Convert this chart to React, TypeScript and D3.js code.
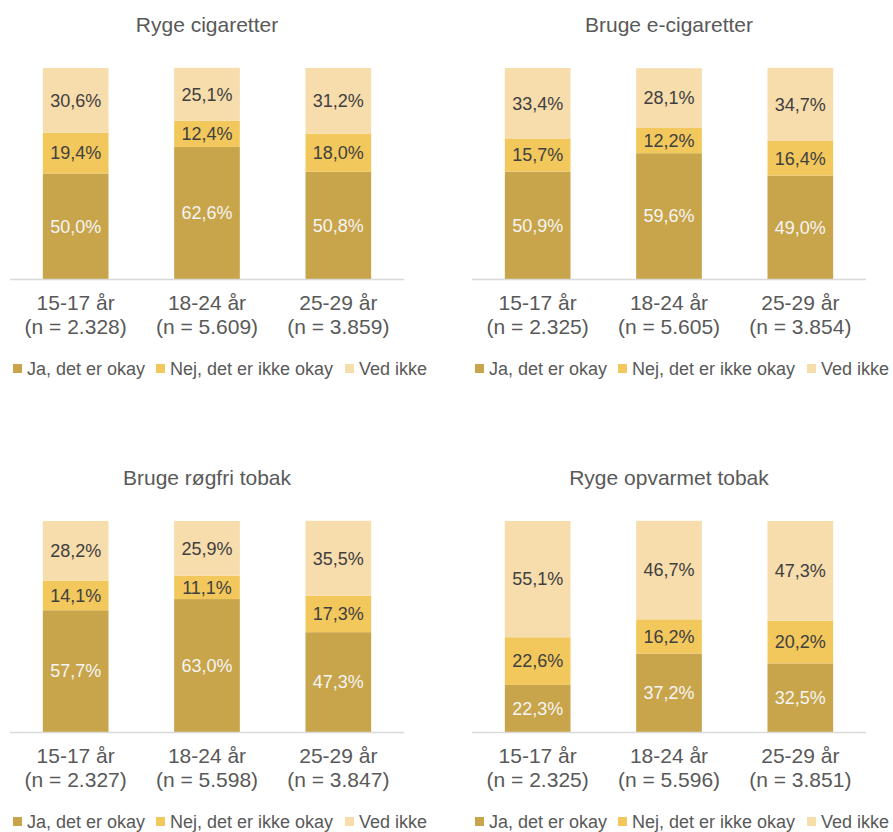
import React from "react";
import * as d3 from "d3";

const categories = ["15-17 år", "18-24 år", "25-29 år"];
const seriesNames = ["Ja, det er okay", "Nej, det er ikke okay", "Ved ikke"];
const seriesColors = ["#C8A44A", "#F2C75C", "#F7DCAC"];
const labelColors = ["#F5F5F5", "#404040", "#404040"];

const titles = ["Ryge cigaretter", "Bruge e-cigaretter", "Bruge røgfri tobak", "Ryge opvarmet tobak"];

const cigJa = [50.0, 62.6, 50.8];
const cigNej = [19.4, 12.4, 18.0];
const cigVed = [30.6, 25.1, 31.2];
const cigN = ["2.328", "5.609", "3.859"];

const eJa = [50.9, 59.6, 49.0];
const eNej = [15.7, 12.2, 16.4];
const eVed = [33.4, 28.1, 34.7];
const eN = ["2.325", "5.605", "3.854"];

const rfJa = [57.7, 63.0, 47.3];
const rfNej = [14.1, 11.1, 17.3];
const rfVed = [28.2, 25.9, 35.5];
const rfN = ["2.327", "5.598", "3.847"];

const opJa = [22.3, 37.2, 32.5];
const opNej = [22.6, 16.2, 20.2];
const opVed = [55.1, 46.7, 47.3];
const opN = ["2.325", "5.596", "3.851"];

const panelsData = [
  { series: [cigJa, cigNej, cigVed], n: cigN },
  { series: [eJa, eNej, eVed], n: eN },
  { series: [rfJa, rfNej, rfVed], n: rfN },
  { series: [opJa, opNej, opVed], n: opN },
];

const FONT = "'Liberation Sans', Arial, sans-serif";
const fmt = (v: number) => d3.format(".1f")(v).replace(".", ",") + "%";

function Panel({ idx, ox, oy }: { idx: number; ox: number; oy: number }) {
  const pd = panelsData[idx];
  const x = d3.scaleBand<string>().domain(categories).range([10, 404]).paddingInner(0.5).paddingOuter(0.25);
  const y = d3.scaleLinear().domain([0, 100]).range([279, 68]);
  const rows = categories.map((c, i) => {
    const obj: any = { cat: c };
    seriesNames.forEach((s, k) => (obj[s] = pd.series[k][i]));
    return obj;
  });
  const stacked = d3.stack<any>().keys(seriesNames)(rows);
  const legendX = [13, 156, 345];
  return (
    <g transform={`translate(${ox},${oy})`}>
      <text x={207} y={32} textAnchor="middle" fontSize={21} fill="#595959" fontFamily={FONT}>
        {titles[idx]}
      </text>
      {stacked.map((layer, k) => (
        <g key={k}>
          {layer.map((d, i) => (
            <rect
              key={i}
              x={x(categories[i])}
              y={y(d[1])}
              width={x.bandwidth()}
              height={y(d[0]) - y(d[1])}
              fill={seriesColors[k]}
            />
          ))}
          {layer.map((d, i) => (
            <text
              key={"t" + i}
              x={(x(categories[i]) as number) + x.bandwidth() / 2}
              y={(y(d[0]) + y(d[1])) / 2}
              dy="0.35em"
              textAnchor="middle"
              fontSize={18}
              fill={labelColors[k]}
              fontFamily={FONT}
            >
              {fmt(d[1] - d[0])}
            </text>
          ))}
        </g>
      ))}
      <line x1={10} x2={404} y1={279.5} y2={279.5} stroke="#D9D9D9" strokeWidth={1.5} />
      {categories.map((c, i) => {
        const cx = (x(c) as number) + x.bandwidth() / 2;
        return (
          <text key={c} textAnchor="middle" fontSize={21} fill="#595959" fontFamily={FONT}>
            <tspan x={cx} y={310}>{c}</tspan>
            <tspan x={cx} y={334}>{`(n = ${pd.n[i]})`}</tspan>
          </text>
        );
      })}
      {seriesNames.map((s, k) => (
        <g key={s} transform={`translate(${legendX[k]},369)`}>
          <rect x={0} y={-5} width={9} height={9} fill={seriesColors[k]} />
          <text x={14} y={0} dy="0.35em" fontSize={18} fill="#595959" fontFamily={FONT}>
            {s}
          </text>
        </g>
      ))}
    </g>
  );
}

export default function App() {
  return (
    <svg
      width={893}
      height={832}
      style={{ position: "absolute", left: 0, top: 0, background: "#fff" }}
    >
      <rect width={893} height={832} fill="#fff" />
      <Panel idx={0} ox={0} oy={0} />
      <Panel idx={1} ox={462} oy={0} />
      <Panel idx={2} ox={0} oy={453} />
      <Panel idx={3} ox={462} oy={453} />
    </svg>
  );
}
